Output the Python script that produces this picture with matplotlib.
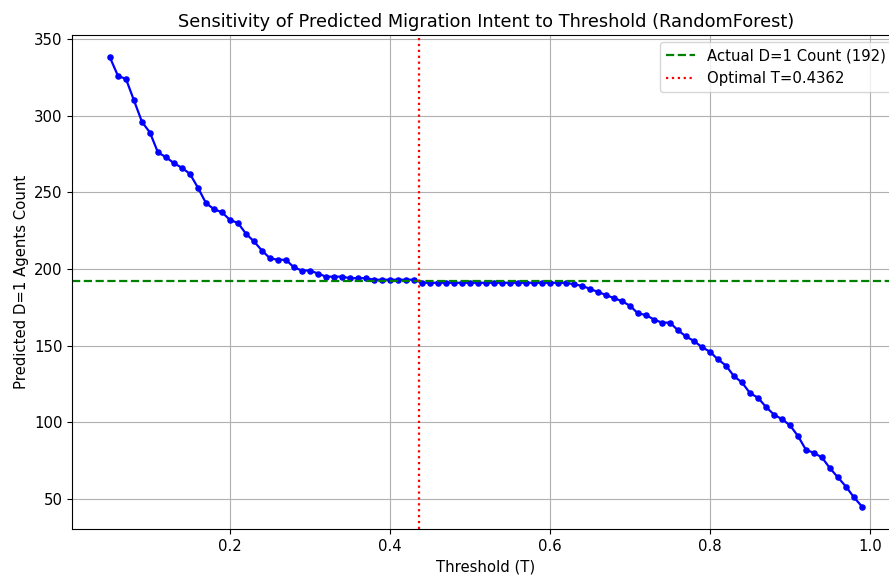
import numpy as np
import matplotlib
matplotlib.use('Agg')
import matplotlib.pyplot as plt

# Umbrales evaluados y número de agentes con D=1 predichos
umbrales = [0.05, 0.06, 0.07, 0.08, 0.09, 0.10, 0.11, 0.12, 0.13, 0.14,
            0.15, 0.16, 0.17, 0.18, 0.19, 0.20, 0.21, 0.22, 0.23, 0.24,
            0.25, 0.26, 0.27, 0.28, 0.29, 0.30, 0.31, 0.32, 0.33, 0.34,
            0.35, 0.36, 0.37, 0.38, 0.39, 0.40, 0.41, 0.42, 0.43, 0.44,
            0.45, 0.46, 0.47, 0.48, 0.49, 0.50, 0.51, 0.52, 0.53, 0.54,
            0.55, 0.56, 0.57, 0.58, 0.59, 0.60, 0.61, 0.62, 0.63, 0.64,
            0.65, 0.66, 0.67, 0.68, 0.69, 0.70, 0.71, 0.72, 0.73, 0.74,
            0.75, 0.76, 0.77, 0.78, 0.79, 0.80, 0.81, 0.82, 0.83, 0.84,
            0.85, 0.86, 0.87, 0.88, 0.89, 0.90, 0.91, 0.92, 0.93, 0.94,
            0.95, 0.96, 0.97, 0.98, 0.99]
conteos = [338, 326, 324, 310, 296, 289, 276, 273, 269, 266,
           262, 253, 243, 239, 237, 232, 230, 223, 218, 212,
           207, 206, 206, 201, 199, 199, 197, 195, 195, 195,
           194, 194, 194, 193, 193, 193, 193, 193, 193, 191,
           191, 191, 191, 191, 191, 191, 191, 191, 191, 191,
           191, 191, 191, 191, 191, 191, 191, 191, 190, 189,
           187, 185, 183, 181, 179, 176, 171, 170, 167, 165,
           165, 160, 156, 153, 149, 146, 141, 137, 130, 126,
           119, 116, 110, 105, 102, 98, 91, 82, 80, 77,
           70, 64, 58, 51, 45]

real_d1 = 192
t_optimo = 0.4362

plt.rcParams['font.size'] = 10.7

fig = plt.figure(figsize=(8.89, 5.76), dpi=100)
ax = fig.add_axes([0.0814, 0.0816, 0.9305, 0.8576])

ax.plot(umbrales, conteos, 'b-', marker='o', markersize=3.7, linewidth=1.6)
ax.axhline(real_d1, color='green', linestyle='--', linewidth=1.6,
           label='Actual D=1 Count (%d)' % real_d1)
ax.axvline(t_optimo, color='red', linestyle=':', linewidth=1.6,
           label='Optimal T=%.4f' % t_optimo)

ax.set_title('Sensitivity of Predicted Migration Intent to Threshold (RandomForest)',
             fontsize=12.8)
ax.set_xlabel('Threshold (T)')
ax.set_ylabel('Predicted D=1 Agents Count')
ax.grid(True)
ax.legend(loc='upper right')

fig.savefig('out.png', dpi=100)
